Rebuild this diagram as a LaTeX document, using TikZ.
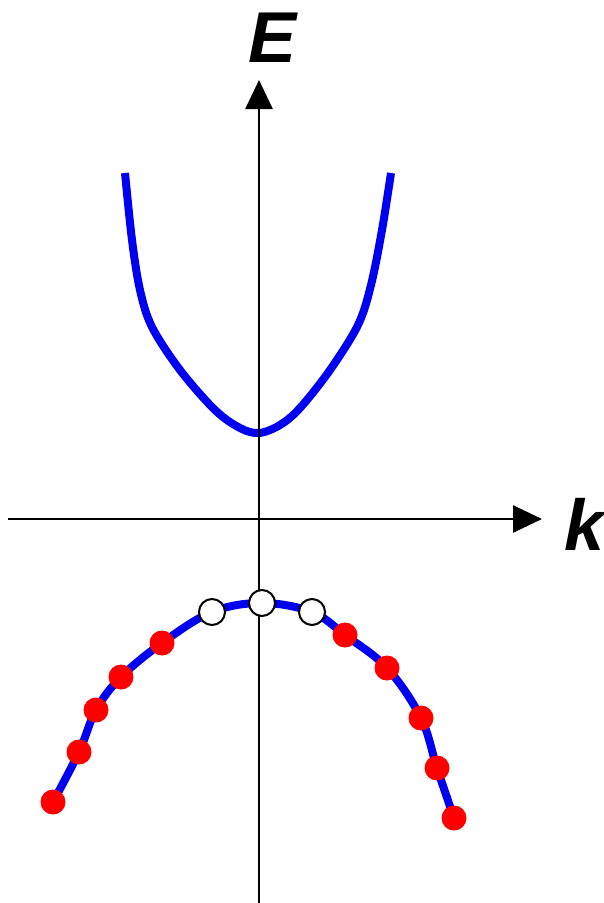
\documentclass[tikz,border=0pt]{standalone}
\usepackage{fontspec}
\setmainfont{Liberation Sans}
\usetikzlibrary{arrows.meta}
\definecolor{bandink}{RGB}{0, 0, 240}
\definecolor{fullink}{RGB}{255, 0, 0}
\tikzset{
  axis/.style={line width=2.7pt, -{Triangle[length=29pt, width=27pt]}},
  band/.style={line width=8pt, bandink},
  filled/.style={circle, fill=fullink, minimum size=25pt, inner sep=0pt},
  hole/.style={circle, draw=black, line width=2pt, fill=white, minimum size=26pt, inner sep=0pt},
  axislabel/.style={font=\fontsize{72}{72}\selectfont\bfseries\itshape}
}

\begin{document}
\begin{tikzpicture}[x=1pt, y=-1pt]
  \useasboundingbox (0,0) rectangle (604,903);
  % conduction band
  \draw[band] plot[smooth, tension=0.55] coordinates {(125,173) (132,240) (140,290) (152,327)
    (180,370) (215,410) (240,428) (259,433) (280,425) (300,408) (330,370) (358,325)
    (371,285) (382,230) (391,173)};
  % valence band
  \draw[band] plot[smooth, tension=0.6] coordinates {(53,802) (79,752) (96,710) (121,677)
    (162,643) (212,612) (262,603) (312,612) (345,635) (387,668) (421,718) (437,768) (454,818)};
  % axes
  \coordinate (origin) at (259,519);
  \coordinate (kstart) at (8,519);
  \coordinate (kend) at (542,519);
  \coordinate (Estart) at (259,903);
  \coordinate (Eend) at (259,80);
  \draw[axis] (kstart) -- (kend);
  \draw[axis] (Estart) -- (Eend);
  \node[axislabel] (Elabel) at (273,38) {E};
  \node[axislabel] (klabel) at (585,524) {k};
  % electrons
  \foreach \name/\px/\py in {e1/53/802, e2/79/752, e3/96/710, e4/121/677, e5/162/643,
      e6/345/635, e7/387/668, e8/421/718, e9/437/768, e10/454/818}
    \node[filled] (\name) at (\px,\py) {};
  % holes
  \foreach \name/\px/\py in {h1/212/612, h2/262/603, h3/312/612}
    \node[hole] (\name) at (\px,\py) {};
\end{tikzpicture}
\end{document}
